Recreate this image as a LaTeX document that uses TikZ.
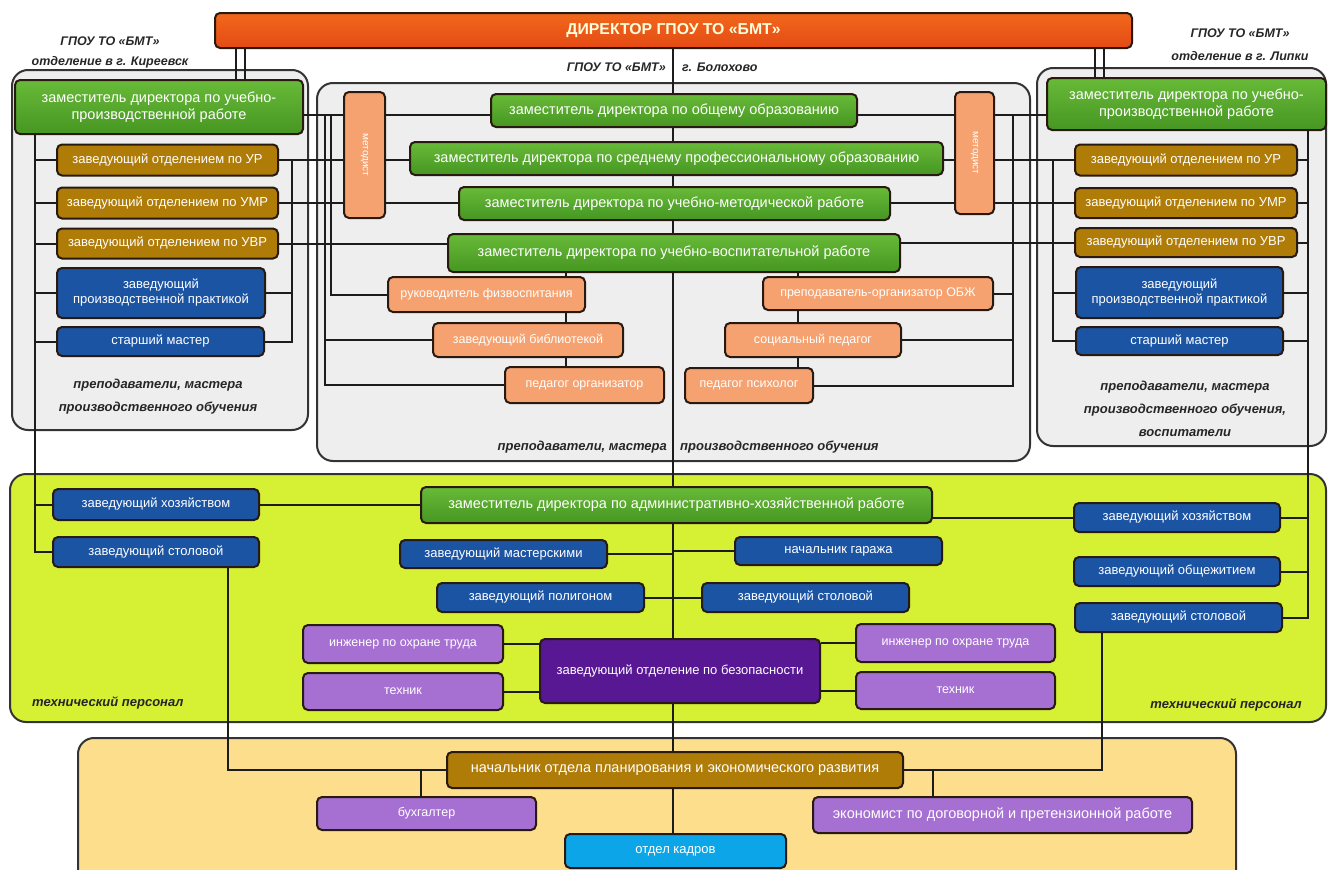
\documentclass[tikz,border=0pt]{standalone}
\usepackage{fontspec}
\setmainfont{Liberation Sans}
\usetikzlibrary{positioning}
\pgfdeclarelayer{panels}
\pgfdeclarelayer{links}
\pgfsetlayers{panels,links,main}
\definecolor{mgreen}{RGB}{70,150,34}
\definecolor{mgreentop}{RGB}{104,186,56}
\definecolor{mgold}{RGB}{176,124,8}
\definecolor{mblue}{RGB}{28,84,164}
\definecolor{msalmon}{RGB}{246,162,112}
\definecolor{mlilac}{RGB}{166,112,210}
\definecolor{mviolet}{RGB}{88,24,148}
\definecolor{mcyan}{RGB}{12,166,232}
\definecolor{morange}{RGB}{242,104,28}
\definecolor{mred}{RGB}{228,74,20}
\definecolor{mlime}{RGB}{214,240,52}
\definecolor{msand}{RGB}{252,222,140}
\definecolor{mpanel}{RGB}{238,238,238}
\definecolor{mline}{RGB}{28,28,28}
\definecolor{medge}{RGB}{40,26,16}

\tikzset{
  anybox/.style={draw=medge, line width=2, rounded corners=5, text=white, align=center,
    inner sep=2, font=\fontsize{13}{15}\selectfont},
  sized/.style 2 args={minimum width=#1, minimum height=#2},
  bigtext/.style={font=\fontsize{14.5}{16.5}\selectfont},
  directorbox/.style={anybox, top color=morange, bottom color=mred, text=yellow!15,
    font=\fontsize{15.8}{18}\selectfont\bfseries},
  greenbox/.style={anybox, top color=mgreentop, bottom color=mgreen, bigtext},
  goldbox/.style={anybox, fill=mgold},
  bluebox/.style={anybox, fill=mblue},
  salmonbox/.style={anybox, fill=msalmon, font=\fontsize{12.5}{14}\selectfont},
  lilacbox/.style={anybox, fill=mlilac, font=\fontsize{12.5}{14}\selectfont},
  violetbox/.style={anybox, fill=mviolet},
  cyanbox/.style={anybox, fill=mcyan},
  panel/.style={draw=black!80, line width=2, rounded corners=16},
  link/.style={draw=mline, line width=2},
  note/.style={text=black!85, align=center, inner sep=0,
    font=\fontsize{13}{23}\selectfont\bfseries\itshape},
}

\begin{document}
\begin{tikzpicture}[x=1pt, y=-1pt]
      \useasboundingbox (0,0) rectangle (1328,870);

      \begin{pgfonlayer}{panels}
        \node[panel, fill=mpanel, sized={296}{360}] (kirpanel) at (160,250) {};
        \node[panel, fill=mpanel, sized={713}{378}] (bolpanel) at (673.5,272) {};
        \node[panel, fill=mpanel, sized={289}{378}] (lippanel) at (1181.5,257) {};
        \node[panel, fill=mlime, sized={1316}{248}] (techpanel) at (668,598) {};
        \node[panel, fill=msand, sized={1158}{150}] (econpanel) at (657,813) {};
      \end{pgfonlayer}

      \node[directorbox, sized={917}{35}] (dir) at (673.5,30.5) {ДИРЕКТОР ГПОУ ТО «БМТ»};

      % headings
      \node[note, font=\fontsize{12.5}{20}\selectfont\bfseries\itshape] (kirhead) at (110,52)
        {ГПОУ ТО «БМТ»\\отделение в г. Киреевск};
      \node[note, font=\fontsize{12.5}{23}\selectfont\bfseries\itshape] (liphead) at (1240,45)
        {ГПОУ ТО «БМТ»\\отделение в г. Липки};
      \node[note, anchor=east, font=\fontsize{12.5}{15}\selectfont\bfseries\itshape] (bolhead) at (666,67) {ГПОУ ТО «БМТ»};
      \node[note, anchor=west, font=\fontsize{12.5}{15}\selectfont\bfseries\itshape] (bolcity) at (682,67) {г. Болохово};

      % Kireevsk
      \node[greenbox, sized={288}{54}] (kupr) at (159,107) {заместитель директора по учебно-\\производственной работе};
      \node[goldbox, sized={221}{31}] (kur) at (167.5,160) {заведующий отделением по УР};
      \node[goldbox, sized={221}{31}] (kumr) at (167.5,203) {заведующий отделением по УМР};
      \node[goldbox, sized={221}{30}] (kuvr) at (167.5,243.5) {заведующий отделением по УВР};
      \node[bluebox, sized={208}{50}] (kprak) at (161,293) {заведующий\\производственной практикой};
      \node[bluebox, sized={207}{29}] (kmast) at (160.5,341.5) {старший мастер};
      \node[note] (kirteach) at (158,397) {преподаватели, мастера\\производственного обучения};

      % Bolokhovo
      \node[greenbox, sized={366}{33}] (oo) at (674,110.5) {заместитель директора по общему образованию};
      \node[greenbox, sized={533}{33}] (spo) at (676.5,158.5) {заместитель директора по среднему профессиональному образованию};
      \node[greenbox, sized={431}{33}] (umr) at (674.5,203.5) {заместитель директора по учебно-методической работе};
      \node[greenbox, sized={452}{38}] (uvr) at (674,253) {заместитель директора по учебно-воспитательной работе};
      \node[salmonbox, sized={41}{126}] (metl) at (364.5,155) {};
      \node[rotate=-90, text=white, font=\fontsize{10}{12}\selectfont] (metltext) at (metl) {методист};
      \node[salmonbox, sized={39}{122}] (metr) at (974.5,153) {};
      \node[rotate=-90, text=white, font=\fontsize{10}{12}\selectfont] (metrtext) at (metr) {методист};
      \node[salmonbox, sized={197}{35}] (fiz) at (486.5,294.5) {руководитель физвоспитания};
      \node[salmonbox, sized={190}{34}] (bib) at (528,340) {заведующий библиотекой};
      \node[salmonbox, sized={159}{36}] (porg) at (584.5,385) {педагог организатор};
      \node[salmonbox, sized={230}{33}] (obzh) at (878,293.5) {преподаватель-организатор ОБЖ};
      \node[salmonbox, sized={176}{34}] (soc) at (813,340) {социальный педагог};
      \node[salmonbox, sized={128}{35}] (psy) at (749,385.5) {педагог психолог};
      \node[note, anchor=east] (bolteach) at (667,447) {преподаватели, мастера};
      \node[note, anchor=west] (bolteach2) at (680,447) {производственного обучения};

      % Lipki
      \node[greenbox, sized={279}{52}] (lupr) at (1186.5,104) {заместитель директора по учебно-\\производственной работе};
      \node[goldbox, sized={222}{31}] (lur) at (1186,160) {заведующий отделением по УР};
      \node[goldbox, sized={222}{30}] (lumr) at (1186,203) {заведующий отделением по УМР};
      \node[goldbox, sized={222}{29}] (luvr) at (1186,242.5) {заведующий отделением по УВР};
      \node[bluebox, sized={207}{51}] (lprak) at (1179.5,292.5) {заведующий\\производственной практикой};
      \node[bluebox, sized={207}{28}] (lmast) at (1179.5,341) {старший мастер};
      \node[note] (lipteach) at (1185,409) {преподаватели, мастера\\производственного обучения,\\воспитатели};

      % technical staff
      \node[bluebox, sized={206}{31}] (zhoz1) at (156,504.5) {заведующий хозяйством};
      \node[bluebox, sized={206}{30}] (zstol1) at (156,552) {заведующий столовой};
      \node[greenbox, sized={511}{36}] (ahr) at (676.5,505) {заместитель директора по административно-хозяйственной работе};
      \node[bluebox, sized={207}{28}] (mastersk) at (503.5,554) {заведующий мастерскими};
      \node[bluebox, sized={207}{28}] (garazh) at (838.5,551) {начальник гаража};
      \node[bluebox, sized={207}{29}] (polig) at (540.5,597.5) {заведующий полигоном};
      \node[bluebox, sized={207}{29}] (zstol2) at (805.5,597.5) {заведующий столовой};
      \node[lilacbox, sized={200}{38}] (ing1) at (403,644) {инженер по охране труда};
      \node[lilacbox, sized={200}{37}] (tech1) at (403,691.5) {техник};
      \node[violetbox, sized={280}{64}] (bez) at (680,671) {заведующий отделение по безопасности};
      \node[lilacbox, sized={199}{38}] (ing2) at (955.5,643) {инженер по охране труда};
      \node[lilacbox, sized={199}{37}] (tech2) at (955.5,690.5) {техник};
      \node[bluebox, sized={206}{29}] (zhoz3) at (1177,517.5) {заведующий хозяйством};
      \node[bluebox, sized={206}{29}] (zobsh) at (1177,571.5) {заведующий общежитием};
      \node[bluebox, sized={207}{29}] (zstol3) at (1178.5,617.5) {заведующий столовой};
      \node[note, anchor=west] (techl) at (32,703) {технический персонал};
      \node[note, anchor=east] (techr) at (1302,705) {технический персонал};

      % economy
      \node[goldbox, bigtext, sized={456}{36}] (npl) at (675,770) {начальник отдела планирования и экономического развития};
      \node[lilacbox, sized={219}{33}] (buh) at (426.5,813.5) {бухгалтер};
      \node[lilacbox, bigtext, sized={379}{36}] (econ) at (1002.5,815) {экономист по договорной и претензионной работе};
      \node[cyanbox, sized={221}{34}] (kadr) at (675.5,851) {отдел кадров};

      % bus positions
      \coordinate (cx) at (673,0);
      \coordinate (kdir1) at (236,0);
      \coordinate (kdir2) at (245,0);
      \coordinate (ldir1) at (1095,0);
      \coordinate (ldir2) at (1104,0);
      \coordinate (kbusl) at (35,0);
      \coordinate (kbusr) at (292,0);
      \coordinate (cbusl) at (325,0);
      \coordinate (cbusm) at (331,0);
      \coordinate (cbusr) at (1013,0);
      \coordinate (lbusl) at (1053,0);
      \coordinate (lbusr) at (1308,0);
      \coordinate (vcl) at (566,0);
      \coordinate (vcr) at (798,0);
      \coordinate (stoll) at (228,0);
      \coordinate (stolr) at (1102,0);
      \coordinate (buhx) at (421,0);
      \coordinate (econx) at (933,0);
      \coordinate (toprow) at (0,115);

      \begin{pgfonlayer}{links}
        \draw[link] (cx |- dir.south) -- (cx |- kadr.north);
        \draw[link] (kdir1 |- dir.south) -- (kdir1 |- kupr.north);
        \draw[link] (kdir2 |- dir.south) -- (kdir2 |- kupr.north);
        \draw[link] (ldir1 |- dir.south) -- (ldir1 |- lupr.north);
        \draw[link] (ldir2 |- dir.south) -- (ldir2 |- lupr.north);

        % Kireevsk
        \draw[link] (kbusl |- kupr.south) -- (kbusl |- zstol1) -- (zstol1.west);
        \foreach \n in {kur,kumr,kuvr,kprak,kmast,zhoz1}
          \draw[link] (kbusl |- \n) -- (\n.west);
        \draw[link] (kbusr |- kur) -- (kbusr |- kmast) -- (kmast.east);
        \draw[link] (kprak.east) -- (kbusr |- kprak);
        \draw[link] (kupr.east |- toprow) -- (metl.west |- toprow);
        \draw[link] (kur.east) -- (kur -| metl.west);
        \draw[link] (kumr.east) -- (kumr -| metl.west);
        \draw[link] (kuvr.east) -- (kuvr -| uvr.west);

        % Bolokhovo
        \draw[link] (metl.east |- toprow) -- (oo.west |- toprow);
        \draw[link] (kur -| metl.east) -- (kur -| spo.west);
        \draw[link] (kumr -| metl.east) -- (kumr -| umr.west);
        \draw[link] (cbusl |- toprow) -- (cbusl |- porg) -- (porg.west);
        \draw[link] (cbusl |- bib) -- (bib.west);
        \draw[link] (cbusm |- toprow) -- (cbusm |- fiz) -- (fiz.west);
        \draw[link] (vcl |- uvr.south) -- (vcl |- porg.north);
        \draw[link] (vcr |- uvr.south) -- (vcr |- psy.north);
        \draw[link] (oo.east |- toprow) -- (metr.west |- toprow);
        \draw[link] (lur -| spo.east) -- (lur -| metr.west);
        \draw[link] (lumr -| umr.east) -- (lumr -| metr.west);
        \draw[link] (cbusr |- toprow) -- (cbusr |- psy) -- (psy.east);
        \draw[link] (obzh.east) -- (cbusr |- obzh);
        \draw[link] (soc.east) -- (cbusr |- soc);

        % Lipki
        \draw[link] (metr.east |- toprow) -- (lupr.west |- toprow);
        \draw[link] (lur -| metr.east) -- (lur.west);
        \draw[link] (lumr -| metr.east) -- (lumr.west);
        \draw[link] (luvr -| uvr.east) -- (luvr.west);
        \draw[link] (lbusl |- lur) -- (lbusl |- lmast) -- (lmast.west);
        \draw[link] (lbusl |- lprak) -- (lprak.west);
        \draw[link] (lbusr |- lupr.south) -- (lbusr |- zstol3) -- (zstol3.east);
        \foreach \n in {lur,lumr,luvr,lprak,lmast,zhoz3,zobsh}
          \draw[link] (\n.east) -- (lbusr |- \n);

        % technical staff
        \draw[link] (zhoz1.east) -- (zhoz1 -| ahr.west);
        \draw[link] (zhoz3 -| ahr.east) -- (zhoz3.west);
        \draw[link] (mastersk.east) -- (cx |- mastersk);
        \draw[link] (garazh.west) -- (cx |- garazh);
        \draw[link] (polig.east) -- (cx |- polig);
        \draw[link] (zstol2.west) -- (cx |- zstol2);
        \draw[link] (ing1.east) -- (ing1 -| bez.west);
        \draw[link] (tech1.east) -- (tech1 -| bez.west);
        \draw[link] (ing2.west) -- (ing2 -| bez.east);
        \draw[link] (tech2.west) -- (tech2 -| bez.east);

        % economy
        \draw[link] (stoll |- zstol1.south) -- (stoll |- npl) -- (npl.west);
        \draw[link] (stolr |- zstol3.south) -- (stolr |- npl) -- (npl.east);
        \draw[link] (buhx |- npl) -- (buhx |- buh.north);
        \draw[link] (econx |- npl) -- (econx |- econ.north);
      \end{pgfonlayer}
\end{tikzpicture}
\end{document}
